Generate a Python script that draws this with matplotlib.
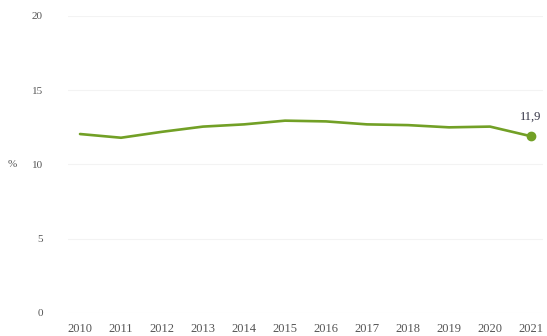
import matplotlib.pyplot as plt

YEARS = [2010, 2011, 2012, 2013, 2014, 2015, 2016, 2017, 2018, 2019, 2020, 2021]
VALUES = [12.05, 11.8, 12.2, 12.55, 12.7, 12.95, 12.9, 12.7, 12.65, 12.5, 12.55, 11.9]
YTICKS = [0, 5, 10, 15, 20]

LINE_COLOR = '#72a026'
TEXT_COLOR = '#555555'

plt.rcParams['font.family'] = ['Liberation Serif', 'DejaVu Sans']

fig = plt.figure(figsize=(5.47, 3.36), dpi=100)
ax = fig.add_axes([0.1238, 0.0685, 0.8695, 0.884])

ax.plot(YEARS, VALUES, color=LINE_COLOR, linewidth=1.9, solid_capstyle='round')
ax.plot(YEARS[-1], VALUES[-1], 'o', color=LINE_COLOR, markersize=6)
ax.annotate('11,9', (YEARS[-1], VALUES[-1]), xytext=(0, 10), textcoords='offset points',
            ha='center', va='bottom', fontsize=9, color='#333344')

ax.set_xlim(2009.7, 2021.3)
ax.set_ylim(0, 20)
ax.set_xticks(YEARS)
ax.set_xticklabels([str(y) for y in YEARS])
ax.set_yticks(YTICKS)
ax.tick_params(length=0, colors=TEXT_COLOR)
ax.tick_params(axis='y', pad=18, labelsize=8)
ax.tick_params(axis='x', pad=7, labelsize=9)
ax.grid(axis='y', color='#f3f3f3', linewidth=0.8)
ax.set_axisbelow(True)
for s in ax.spines.values():
    s.set_visible(False)

ax.set_ylabel('%', rotation=0, fontsize=8, color=TEXT_COLOR, labelpad=14, va='center')

fig.savefig('out.png', dpi=100)
